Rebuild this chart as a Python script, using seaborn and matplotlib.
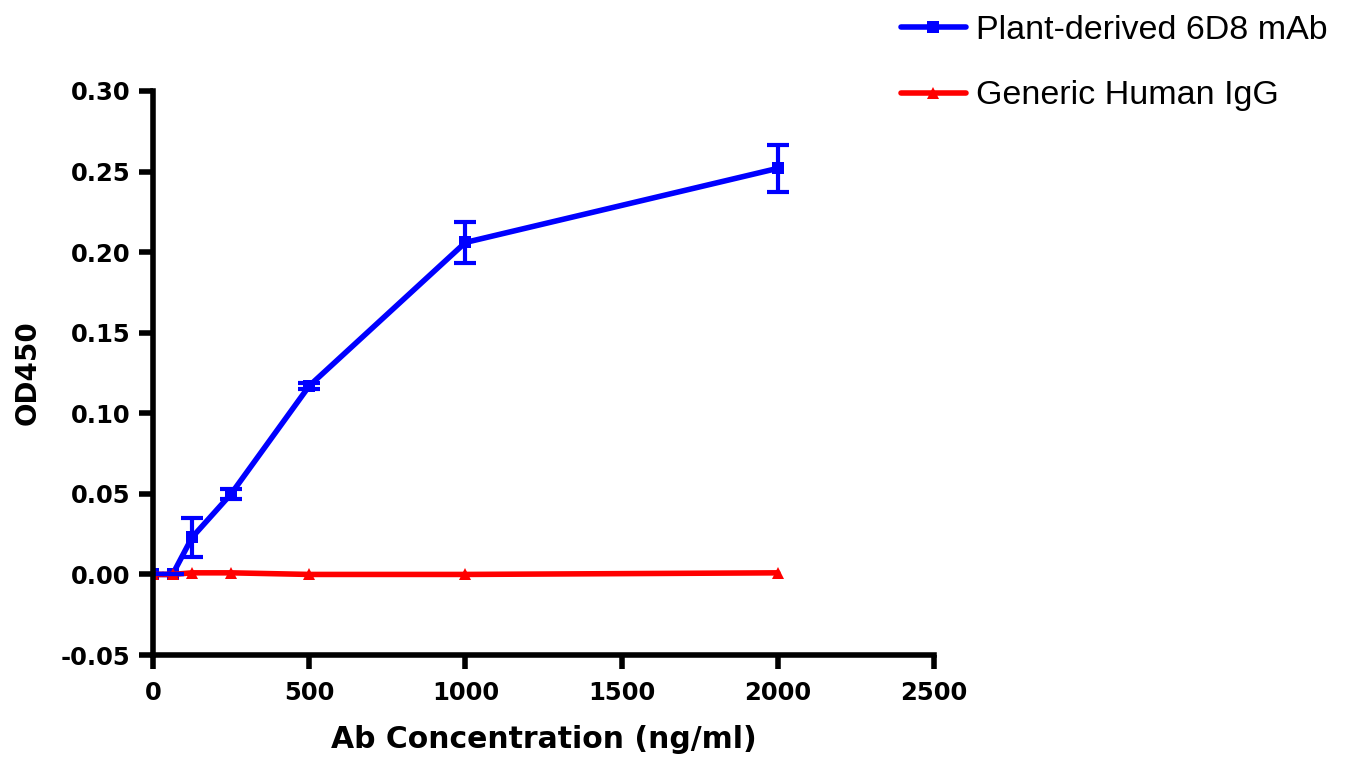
import matplotlib
matplotlib.use("Agg")
import matplotlib.pyplot as plt
import seaborn as sns
import pandas as pd
import numpy as np

conc = [0, 62.5, 125, 250, 500, 1000, 2000]
mab_mean = [0.0, 0.0, 0.023, 0.050, 0.117, 0.206, 0.252]
mab_err = [0.0, 0.0, 0.012, 0.003, 0.002, 0.0125, 0.0145]
igg_mean = [0.0, 0.0, 0.001, 0.001, 0.0, 0.0, 0.001]
series_names = ["Plant-derived 6D8 mAb", "Generic Human IgG"]
colors = ["#0000ff", "#ff0000"]
xticks = [0, 500, 1000, 1500, 2000, 2500]
yticks = [-0.05, 0.00, 0.05, 0.10, 0.15, 0.20, 0.25, 0.30]

sns.set_style("ticks")
plt.rcParams['font.family'] = ['DejaVu Sans']
plt.rcParams['text.color'] = 'black'
plt.rcParams['axes.labelcolor'] = 'black'
plt.rcParams['xtick.color'] = 'black'
plt.rcParams['ytick.color'] = 'black'
plt.rcParams['axes.edgecolor'] = 'black'

df = pd.DataFrame({
    "conc": conc * 2,
    "od": mab_mean + igg_mean,
    "series": [series_names[0]] * len(conc) + [series_names[1]] * len(conc),
})

fig = plt.figure(figsize=(13.58, 7.62), dpi=100)
ax = fig.add_axes([0.1127, 0.1404, 0.5751, 0.7402])

sns.lineplot(data=df, x="conc", y="od", hue="series", style="series",
             palette=colors, markers=["s", "^"], dashes=False,
             linewidth=4, markersize=8, markeredgewidth=0, ax=ax, legend=True)
ax.errorbar(conc, mab_mean, yerr=mab_err, fmt="none", ecolor=colors[0],
            elinewidth=3, capsize=8, capthick=3)

ax.set_xlim(0, 2500)
ax.set_ylim(-0.05, 0.30)
ax.set_xticks(xticks)
ax.set_yticks(yticks)
ax.set_yticklabels([f"{v:.2f}" for v in yticks])
ax.tick_params(axis="both", width=4, length=10, labelsize=17.5, direction="out")
ax.tick_params(axis="y", pad=6)
ax.tick_params(axis="x", pad=9)
for lab in ax.get_xticklabels() + ax.get_yticklabels():
    lab.set_fontweight("bold")
for s in ["left", "bottom"]:
    ax.spines[s].set_linewidth(4)
sns.despine(ax=ax)
ax.set_xlabel("Ab Concentration (ng/ml)", fontsize=21.5, fontweight="bold", labelpad=14)
ax.set_ylabel("OD450", fontsize=20, fontweight="bold", labelpad=14)

leg = ax.legend(loc="upper left", bbox_to_anchor=(0.641, 1.02), bbox_transform=fig.transFigure,
                frameon=False, prop={"family": "Liberation Sans", "size": 24.5},
                handlelength=1.9, labelspacing=1.0, handletextpad=0.3)
for line in leg.get_lines():
    line.set_linewidth(4)

fig.savefig("out.png", dpi=100)
